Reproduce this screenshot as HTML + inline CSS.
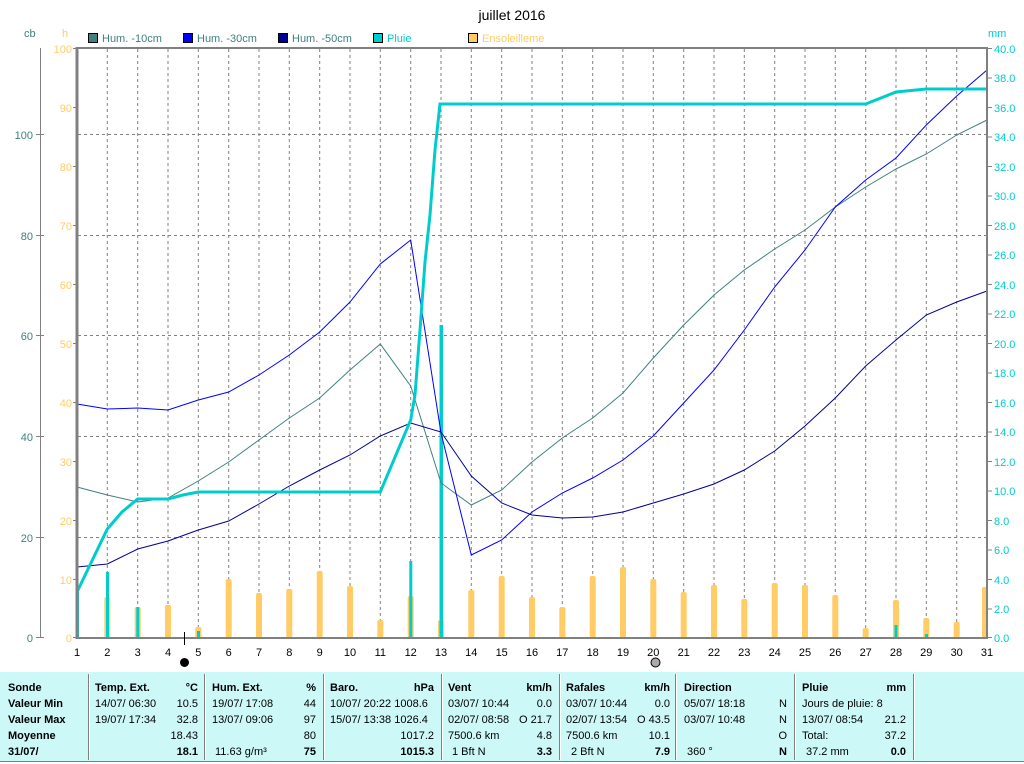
<!DOCTYPE html>
<html><head><meta charset="utf-8"><style>
html,body{margin:0;padding:0;background:#fff;width:1024px;height:764px;overflow:hidden}
svg{display:block;font-family:"Liberation Sans",sans-serif}
</style></head><body>
<svg width="1024" height="764" viewBox="0 0 1024 764" xmlns="http://www.w3.org/2000/svg">
<rect width="1024" height="764" fill="#fff"/>
<text x="512" y="20" font-size="14" text-anchor="middle" fill="#000">juillet 2016</text>
<!-- legend -->
<g font-size="11">
<rect x="88.5" y="33.5" width="9" height="9" fill="#408080" stroke="#000"/><text x="102" y="42" fill="#408080">Hum. -10cm</text>
<rect x="183.5" y="33.5" width="9" height="9" fill="#0000ff" stroke="#000"/><text x="197" y="42" fill="#408080">Hum. -30cm</text>
<rect x="278.5" y="33.5" width="9" height="9" fill="#000099" stroke="#000"/><text x="292" y="42" fill="#408080">Hum. -50cm</text>
<rect x="373.5" y="33.5" width="9" height="9" fill="#00cccc" stroke="#000"/><text x="387" y="42" fill="#00cccc">Pluie</text>
<rect x="468.5" y="33.5" width="9" height="9" fill="#ffcc66" stroke="#000"/><text x="482" y="42" fill="#ffcc66">Ensoleilleme</text>
<text x="24" y="37" fill="#408080">cb</text>
<text x="62" y="37" fill="#ffcc66">h</text>
<text x="988" y="37" fill="#00cccc">mm</text>
</g>
<!-- grid -->
<g stroke="#808080" stroke-width="1" stroke-dasharray="3,3">
<line x1="107.3" y1="49" x2="107.3" y2="638"/><line x1="137.7" y1="49" x2="137.7" y2="638"/><line x1="168" y1="49" x2="168" y2="638"/><line x1="198.3" y1="49" x2="198.3" y2="638"/><line x1="228.7" y1="49" x2="228.7" y2="638"/><line x1="259" y1="49" x2="259" y2="638"/><line x1="289.3" y1="49" x2="289.3" y2="638"/><line x1="319.7" y1="49" x2="319.7" y2="638"/><line x1="350" y1="49" x2="350" y2="638"/><line x1="380.3" y1="49" x2="380.3" y2="638"/><line x1="410.7" y1="49" x2="410.7" y2="638"/><line x1="441" y1="49" x2="441" y2="638"/><line x1="471.3" y1="49" x2="471.3" y2="638"/><line x1="501.7" y1="49" x2="501.7" y2="638"/><line x1="532" y1="49" x2="532" y2="638"/><line x1="562.3" y1="49" x2="562.3" y2="638"/><line x1="592.7" y1="49" x2="592.7" y2="638"/><line x1="623" y1="49" x2="623" y2="638"/><line x1="653.3" y1="49" x2="653.3" y2="638"/><line x1="683.7" y1="49" x2="683.7" y2="638"/><line x1="714" y1="49" x2="714" y2="638"/><line x1="744.3" y1="49" x2="744.3" y2="638"/><line x1="774.7" y1="49" x2="774.7" y2="638"/><line x1="805" y1="49" x2="805" y2="638"/><line x1="835.3" y1="49" x2="835.3" y2="638"/><line x1="865.7" y1="49" x2="865.7" y2="638"/><line x1="896" y1="49" x2="896" y2="638"/><line x1="926.3" y1="49" x2="926.3" y2="638"/><line x1="956.7" y1="49" x2="956.7" y2="638"/>
<line x1="78" y1="134.5" x2="987" y2="134.5"/><line x1="78" y1="235.5" x2="987" y2="235.5"/><line x1="78" y1="335.5" x2="987" y2="335.5"/><line x1="78" y1="436.5" x2="987" y2="436.5"/><line x1="78" y1="537.5" x2="987" y2="537.5"/>
</g>
<!-- sunshine bars -->
<g fill="#ffcc66">
<rect x="104.3" y="597" width="6" height="41" rx="2"/><rect x="134.7" y="607" width="6" height="31" rx="2"/><rect x="165" y="605" width="6" height="33" rx="2"/><rect x="195.3" y="627" width="6" height="11" rx="2"/><rect x="225.7" y="579" width="6" height="59" rx="2"/><rect x="256" y="593" width="6" height="45" rx="2"/><rect x="286.3" y="589" width="6" height="49" rx="2"/><rect x="316.7" y="571" width="6" height="67" rx="2"/><rect x="347" y="586" width="6" height="52" rx="2"/><rect x="377.3" y="620" width="6" height="18" rx="2"/><rect x="407.7" y="596" width="6" height="42" rx="2"/><rect x="438" y="620" width="6" height="18" rx="2"/><rect x="468.3" y="590" width="6" height="48" rx="2"/><rect x="498.7" y="576" width="6" height="62" rx="2"/><rect x="529" y="597" width="6" height="41" rx="2"/><rect x="559.3" y="607" width="6" height="31" rx="2"/><rect x="589.7" y="576" width="6" height="62" rx="2"/><rect x="620" y="567" width="6" height="71" rx="2"/><rect x="650.3" y="579" width="6" height="59" rx="2"/><rect x="680.7" y="592" width="6" height="46" rx="2"/><rect x="711" y="585" width="6" height="53" rx="2"/><rect x="741.3" y="599" width="6" height="39" rx="2"/><rect x="771.7" y="583" width="6" height="55" rx="2"/><rect x="802" y="585" width="6" height="53" rx="2"/><rect x="832.3" y="595" width="6" height="43" rx="2"/><rect x="862.7" y="628" width="6" height="10" rx="2"/><rect x="893" y="600" width="6" height="38" rx="2"/><rect x="923.3" y="618" width="6" height="20" rx="2"/><rect x="953.7" y="622" width="6" height="16" rx="2"/><rect x="982" y="587" width="5" height="51" rx="2"/>
</g>
<!-- daily rain bars -->
<g fill="#00cccc">
<rect x="76" y="592" width="3" height="46"/><rect x="106" y="572" width="3" height="66"/><rect x="136.3" y="607" width="3" height="31"/><rect x="197" y="631" width="3" height="7"/><rect x="409.3" y="561" width="3" height="77"/><rect x="439.5" y="325" width="3.5" height="313"/><rect x="894.5" y="625" width="3" height="13"/><rect x="925" y="634" width="3" height="4"/>
</g>
<!-- humidity lines -->
<polyline fill="none" stroke="#408080" stroke-width="1" points="77,487 107.3,495 137.7,502 168,498 198.3,481 228.7,462 259,440 289.3,418 319.7,398 350,370 380.3,344 410.7,386 441,483 471.3,505 501.7,490 532,462 562.3,438 592.7,418 623,393 653.3,358 683.7,325 714,295 744.3,270 774.7,249 805,230 835.3,207 865.7,187 896,169 926.3,154 956.7,135 987,120"/>
<polyline fill="none" stroke="#0000ff" stroke-width="1" points="77,404 107.3,409 137.7,408 168,410 198.3,400 228.7,392 259,375 289.3,355 319.7,332 350,302 380.3,264 410.7,240 441,433 471.3,555 501.7,540 532,512 562.3,493 592.7,478 623,460 653.3,436 683.7,403 714,370 744.3,330 774.7,287 805,250 835.3,207 865.7,180 896,158 926.3,125 956.7,96 987,70"/>
<polyline fill="none" stroke="#000099" stroke-width="1" points="77,567 107.3,564 137.7,549 168,541 198.3,530 228.7,521 259,504 289.3,486 319.7,470 350,455 380.3,436 410.7,423 441,432 471.3,476 501.7,503 532,515 562.3,518 592.7,517 623,512 653.3,503 683.7,494 714,484 744.3,470 774.7,451 805,426 835.3,398 865.7,366 896,340 926.3,315 956.7,302 987,291"/>
<!-- cumulative rain -->
<polyline fill="none" stroke="#00cccc" stroke-width="3" points="77,592 107.3,529 122,512 137.7,499 168,499 183,495 198.3,492 380.3,492 410.7,420 415,395 420,330 425,262 430,215 435,150 440,104 865.7,104 896,92 926.3,89 987,89"/>
<!-- frame -->
<g stroke="#808080" fill="none">
<line x1="77" y1="47" x2="77" y2="639" stroke-width="3"/>
<line x1="76" y1="48" x2="988" y2="48" stroke-width="2"/>
<line x1="987" y1="47" x2="987" y2="639" stroke-width="2"/>
<line x1="76" y1="638" x2="988" y2="638" stroke-width="2"/>
<line x1="40.5" y1="48" x2="40.5" y2="638" stroke-width="1"/>
</g>
<!-- left cb axis -->
<g stroke="#808080"><line x1="36" y1="134.5" x2="44" y2="134.5"/><line x1="36" y1="235.5" x2="44" y2="235.5"/><line x1="36" y1="335.5" x2="44" y2="335.5"/><line x1="36" y1="436.5" x2="44" y2="436.5"/><line x1="36" y1="537.5" x2="44" y2="537.5"/><line x1="36" y1="637.5" x2="44" y2="637.5"/></g>
<g font-size="11" fill="#408080" text-anchor="end"><text x="33" y="139">100</text><text x="33" y="240">80</text><text x="33" y="340">60</text><text x="33" y="441">40</text><text x="33" y="542">20</text><text x="33" y="642">0</text></g>
<!-- h axis -->
<g stroke="#808080"><line x1="73" y1="48.5" x2="77" y2="48.5"/><line x1="73" y1="107.5" x2="77" y2="107.5"/><line x1="73" y1="166.5" x2="77" y2="166.5"/><line x1="73" y1="225.5" x2="77" y2="225.5"/><line x1="73" y1="284.5" x2="77" y2="284.5"/><line x1="73" y1="343.5" x2="77" y2="343.5"/><line x1="73" y1="402.5" x2="77" y2="402.5"/><line x1="73" y1="461.5" x2="77" y2="461.5"/><line x1="73" y1="520.5" x2="77" y2="520.5"/><line x1="73" y1="579.5" x2="77" y2="579.5"/><line x1="73" y1="637.5" x2="77" y2="637.5"/></g>
<g font-size="11" fill="#ffcc66" text-anchor="end"><text x="72" y="53">100</text><text x="72" y="112">90</text><text x="72" y="171">80</text><text x="72" y="230">70</text><text x="72" y="289">60</text><text x="72" y="348">50</text><text x="72" y="407">40</text><text x="72" y="466">30</text><text x="72" y="525">20</text><text x="72" y="584">10</text><text x="72" y="642">0</text></g>
<!-- right mm axis -->
<g stroke="#808080"><line x1="987" y1="48.5" x2="992" y2="48.5"/><line x1="987" y1="78" x2="992" y2="78"/><line x1="987" y1="107.5" x2="992" y2="107.5"/><line x1="987" y1="137" x2="992" y2="137"/><line x1="987" y1="166.5" x2="992" y2="166.5"/><line x1="987" y1="196" x2="992" y2="196"/><line x1="987" y1="225.5" x2="992" y2="225.5"/><line x1="987" y1="255" x2="992" y2="255"/><line x1="987" y1="284.5" x2="992" y2="284.5"/><line x1="987" y1="314" x2="992" y2="314"/><line x1="987" y1="343.5" x2="992" y2="343.5"/><line x1="987" y1="373" x2="992" y2="373"/><line x1="987" y1="402.5" x2="992" y2="402.5"/><line x1="987" y1="432" x2="992" y2="432"/><line x1="987" y1="461.5" x2="992" y2="461.5"/><line x1="987" y1="491" x2="992" y2="491"/><line x1="987" y1="520.5" x2="992" y2="520.5"/><line x1="987" y1="550" x2="992" y2="550"/><line x1="987" y1="579.5" x2="992" y2="579.5"/><line x1="987" y1="609" x2="992" y2="609"/><line x1="987" y1="637.5" x2="992" y2="637.5"/></g>
<g font-size="11" fill="#00cccc"><text x="994" y="53">40.0</text><text x="994" y="82">38.0</text><text x="994" y="112">36.0</text><text x="994" y="141">34.0</text><text x="994" y="171">32.0</text><text x="994" y="200">30.0</text><text x="994" y="230">28.0</text><text x="994" y="259">26.0</text><text x="994" y="289">24.0</text><text x="994" y="318">22.0</text><text x="994" y="348">20.0</text><text x="994" y="377">18.0</text><text x="994" y="407">16.0</text><text x="994" y="436">14.0</text><text x="994" y="466">12.0</text><text x="994" y="495">10.0</text><text x="994" y="525">8.0</text><text x="994" y="554">6.0</text><text x="994" y="584">4.0</text><text x="994" y="613">2.0</text><text x="994" y="642">0.0</text></g>
<!-- x ticks and labels -->
<g font-size="11" fill="#000" text-anchor="middle"><text x="77" y="656">1</text><text x="107.3" y="656">2</text><text x="137.7" y="656">3</text><text x="168" y="656">4</text><text x="198.3" y="656">5</text><text x="228.7" y="656">6</text><text x="259" y="656">7</text><text x="289.3" y="656">8</text><text x="319.7" y="656">9</text><text x="350" y="656">10</text><text x="380.3" y="656">11</text><text x="410.7" y="656">12</text><text x="441" y="656">13</text><text x="471.3" y="656">14</text><text x="501.7" y="656">15</text><text x="532" y="656">16</text><text x="562.3" y="656">17</text><text x="592.7" y="656">18</text><text x="623" y="656">19</text><text x="653.3" y="656">20</text><text x="683.7" y="656">21</text><text x="714" y="656">22</text><text x="744.3" y="656">23</text><text x="774.7" y="656">24</text><text x="805" y="656">25</text><text x="835.3" y="656">26</text><text x="865.7" y="656">27</text><text x="896" y="656">28</text><text x="926.3" y="656">29</text><text x="956.7" y="656">30</text><text x="987" y="656">31</text></g>
<line x1="184.5" y1="632" x2="184.5" y2="645" stroke="#000"/>
<circle cx="184.5" cy="662.5" r="4.5" fill="#000"/>
<circle cx="655.5" cy="662.5" r="4.5" fill="#aaa" stroke="#000"/>
<!-- table -->
<rect x="0" y="672" width="1024" height="89" fill="#ccf8f8"/>
<line x1="0" y1="761.5" x2="1024" y2="761.5" stroke="#808080"/>
<g stroke="#808080" stroke-width="1"><line x1="88.5" y1="674" x2="88.5" y2="760"/><line x1="204.5" y1="674" x2="204.5" y2="760"/><line x1="323.5" y1="674" x2="323.5" y2="760"/><line x1="441.5" y1="674" x2="441.5" y2="760"/><line x1="559.5" y1="674" x2="559.5" y2="760"/><line x1="675.5" y1="674" x2="675.5" y2="760"/><line x1="794.5" y1="674" x2="794.5" y2="760"/><line x1="913.5" y1="674" x2="913.5" y2="760"/></g>
<g stroke="#fff" stroke-width="1"><line x1="89.5" y1="674" x2="89.5" y2="760"/><line x1="205.5" y1="674" x2="205.5" y2="760"/><line x1="324.5" y1="674" x2="324.5" y2="760"/><line x1="442.5" y1="674" x2="442.5" y2="760"/><line x1="560.5" y1="674" x2="560.5" y2="760"/><line x1="676.5" y1="674" x2="676.5" y2="760"/><line x1="795.5" y1="674" x2="795.5" y2="760"/><line x1="914.5" y1="674" x2="914.5" y2="760"/></g>
<g font-size="11" fill="#000">
<g font-weight="bold"><text x="8" y="691">Sonde</text><text x="8" y="707">Valeur Min</text><text x="8" y="723">Valeur Max</text><text x="8" y="739">Moyenne</text><text x="8" y="755">31/07/</text></g>
<text x="95" y="691" font-weight="bold">Temp. Ext.</text><text x="198" y="691" font-weight="bold" text-anchor="end">°C</text>
<text x="95" y="707">14/07/  06:30</text><text x="198" y="707" text-anchor="end">10.5</text>
<text x="95" y="723">19/07/  17:34</text><text x="198" y="723" text-anchor="end">32.8</text>
<text x="198" y="739" text-anchor="end">18.43</text><text x="198" y="755" text-anchor="end" font-weight="bold">18.1</text>
<text x="212" y="691" font-weight="bold">Hum. Ext.</text><text x="316" y="691" font-weight="bold" text-anchor="end">%</text>
<text x="212" y="707">19/07/  17:08</text><text x="316" y="707" text-anchor="end">44</text>
<text x="212" y="723">13/07/  09:06</text><text x="316" y="723" text-anchor="end">97</text>
<text x="316" y="739" text-anchor="end">80</text><text x="215" y="755">11.63 g/m³</text><text x="316" y="755" text-anchor="end" font-weight="bold">75</text>
<text x="330" y="691" font-weight="bold">Baro.</text><text x="434" y="691" font-weight="bold" text-anchor="end">hPa</text>
<text x="330" y="707">10/07/  20:22 1008.6</text><text x="330" y="723">15/07/  13:38 1026.4</text>
<text x="434" y="739" text-anchor="end">1017.2</text><text x="434" y="755" text-anchor="end" font-weight="bold">1015.3</text>
<text x="448" y="691" font-weight="bold">Vent</text><text x="552" y="691" font-weight="bold" text-anchor="end">km/h</text>
<text x="448" y="707">03/07/  10:44</text><text x="552" y="707" text-anchor="end">0.0</text>
<text x="448" y="723">02/07/  08:58</text><text x="552" y="723" text-anchor="end">O 21.7</text>
<text x="448" y="739">7500.6 km</text><text x="552" y="739" text-anchor="end">4.8</text>
<text x="452" y="755">1 Bft N</text><text x="552" y="755" text-anchor="end" font-weight="bold">3.3</text>
<text x="566" y="691" font-weight="bold">Rafales</text><text x="670" y="691" font-weight="bold" text-anchor="end">km/h</text>
<text x="566" y="707">03/07/  10:44</text><text x="670" y="707" text-anchor="end">0.0</text>
<text x="566" y="723">02/07/  13:54</text><text x="670" y="723" text-anchor="end">O 43.5</text>
<text x="566" y="739">7500.6 km</text><text x="670" y="739" text-anchor="end">10.1</text>
<text x="571" y="755">2 Bft N</text><text x="670" y="755" text-anchor="end" font-weight="bold">7.9</text>
<text x="684" y="691" font-weight="bold">Direction</text>
<text x="684" y="707">05/07/  18:18</text><text x="787" y="707" text-anchor="end">N</text>
<text x="684" y="723">03/07/  10:48</text><text x="787" y="723" text-anchor="end">N</text>
<text x="787" y="739" text-anchor="end">O</text>
<text x="687" y="755">360 °</text><text x="787" y="755" text-anchor="end" font-weight="bold">N</text>
<text x="802" y="691" font-weight="bold">Pluie</text><text x="906" y="691" font-weight="bold" text-anchor="end">mm</text>
<text x="802" y="707">Jours de pluie: 8</text>
<text x="802" y="723">13/07/  08:54</text><text x="906" y="723" text-anchor="end">21.2</text>
<text x="802" y="739">Total:</text><text x="906" y="739" text-anchor="end">37.2</text>
<text x="806" y="755">37.2 mm</text><text x="906" y="755" text-anchor="end" font-weight="bold">0.0</text>
</g>
</svg>
</body></html>
